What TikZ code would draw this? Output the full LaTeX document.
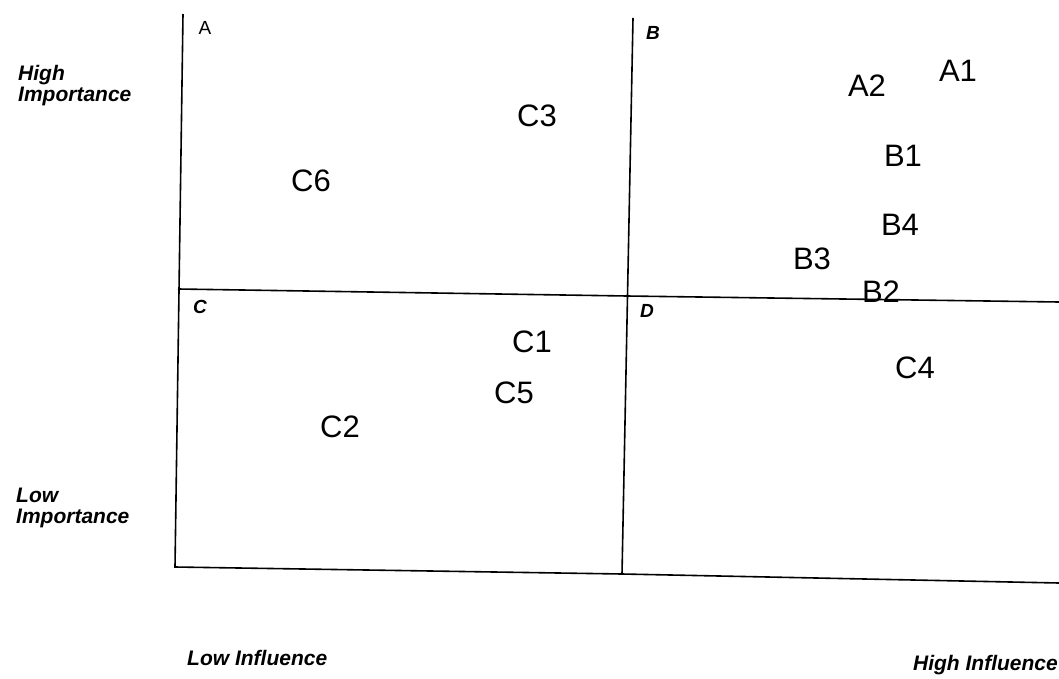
\documentclass[tikz,border=0pt]{standalone}
\usepackage{fontspec}
\setmainfont{Liberation Sans}
\begin{document}
\begin{tikzpicture}[x=1pt,y=-1pt,
  axis/.style={line width=1.6pt,black},
  item/.style={font=\fontsize{31}{33}\selectfont,inner sep=0pt},
  quad/.style={font=\fontsize{19}{21}\selectfont\bfseries\itshape,inner sep=0pt},
  side/.style={font=\fontsize{21}{21}\selectfont\bfseries\itshape,inner sep=0pt,align=left}]
\useasboundingbox (0,0) rectangle (1059,679);
% grid corners
\coordinate (tl) at (183,14);
\coordinate (ml) at (178,289);
\coordinate (bl) at (175,567);
\coordinate (tm) at (633,18);
\coordinate (mm) at (627,296);
\coordinate (bm) at (622,574);
\coordinate (mr) at (1059,302);
\coordinate (br) at (1059,583);
\draw[axis] (tl) -- (bl) -- (bm) -- (br);
\draw[axis] (tm) -- (bm);
\draw[axis] (ml) -- (mm) -- (mr);
% quadrant labels
\node[quad,font=\fontsize{19}{21}\selectfont] (qa) at (205,28) {A};
\node[quad] (qb) at (653,33) {B};
\node[quad] (qc) at (200,307) {C};
\node[quad] (qd) at (647,311) {D};
% items
\node[item] (c3) at (537,116) {C3};
\node[item] (c6) at (311,181) {C6};
\node[item] (a2) at (867,86) {A2};
\node[item] (a1) at (958,71) {A1};
\node[item] (b1) at (903,156) {B1};
\node[item] (b4) at (900,225) {B4};
\node[item] (b3) at (812,259) {B3};
\node[item] (b2) at (881,292) {B2};
\node[item] (c1) at (532,342) {C1};
\node[item] (c5) at (514,393) {C5};
\node[item] (c2) at (340,427) {C2};
\node[item] (c4) at (915,368) {C4};
% side labels
\node[side,anchor=west] (hi) at (18,86) {High\\Importance};
\node[side,anchor=west] (li) at (16,508) {Low\\Importance};
\node[side,anchor=west] (lf) at (187,658) {Low Influence};
\node[side,anchor=east] (hf) at (1058,665) {High Influence};
\end{tikzpicture}
\end{document}
